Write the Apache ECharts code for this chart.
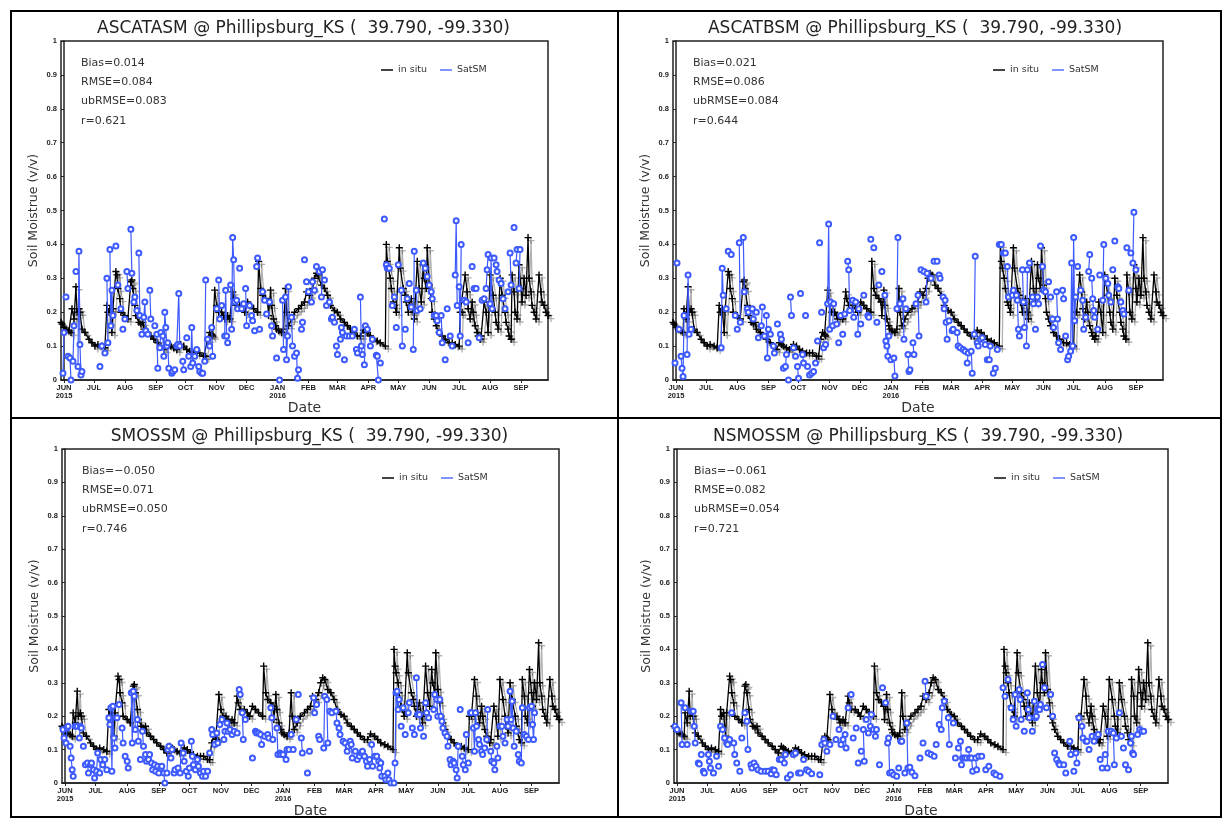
<!DOCTYPE html>
<html>
<head>
<meta charset="utf-8">
<title>Soil moisture at Phillipsburg_KS</title>
<script src="https://cdn.jsdelivr.net/npm/echarts@6/dist/echarts.min.js"></script>
<style>
  html, body { margin: 0; padding: 0; background: #fff; }
  #main { width: 1224px; height: 819px; }
</style>
</head>
<body>
<div id="main"></div>
<script>
// day numbers are counted from 2015-06-01 (day 0)
const dayZero = '2015-06-01';
const firstDay = -3;   // 2015-05-29
const lastDay = 485;   // 2016-09-28

// month ticks
const monthStarts = ['2015-06-01', '2015-07-01', '2015-08-01', '2015-09-01', '2015-10-01', '2015-11-01',
  '2015-12-01', '2016-01-01', '2016-02-01', '2016-03-01', '2016-04-01', '2016-05-01', '2016-06-01',
  '2016-07-01', '2016-08-01', '2016-09-01'];
const monthLabels = ['JUN\n2015', 'JUL', 'AUG', 'SEP', 'OCT', 'NOV', 'DEC', 'JAN\n2016', 'FEB', 'MAR',
  'APR', 'MAY', 'JUN', 'JUL', 'AUG', 'SEP'];

const productNames = ['ASCATASM', 'ASCATBSM', 'SMOSSM', 'NSMOSSM'];
const stationName = 'Phillipsburg_KS';
const stationCoords = '(  39.790, -99.330)';

const statsA = ['Bias=0.014', 'RMSE=0.084', 'ubRMSE=0.083', 'r=0.621'];
const statsB = ['Bias=0.021', 'RMSE=0.086', 'ubRMSE=0.084', 'r=0.644'];
const statsS = ['Bias=\u22120.050', 'RMSE=0.071', 'ubRMSE=0.050', 'r=0.746'];
const statsN = ['Bias=\u22120.061', 'RMSE=0.082', 'ubRMSE=0.054', 'r=0.721'];

// in situ soil moisture [day, v/v] (same station in every panel)
const inSitu = [[-3,0.17],[-2,0.165],[0,0.155],[2,0.15],[5,0.145],[7,0.14],[8,0.21],[10,0.18],[12,0.275],[13,0.2],
  [15,0.21],[16,0.2],[18,0.15],[21,0.14],[25,0.12],[28,0.11],[31,0.1],[34,0.105],[38,0.1],[41,0.095],[43,0.22],
  [44,0.2],[46,0.21],[48,0.14],[49,0.21],[52,0.32],[53,0.31],[54,0.27],[56,0.24],[57,0.2],[61,0.19],[64,0.18],
  [67,0.29],[68,0.295],[69,0.27],[71,0.22],[72,0.19],[75,0.17],[77,0.165],[79,0.17],[80,0.15],[84,0.14],[87,0.13],
  [90,0.12],[94,0.11],[97,0.1],[100,0.09],[103,0.11],[105,0.105],[107,0.1],[110,0.095],[113,0.09],[117,0.105],
  [120,0.1],[123,0.09],[126,0.085],[130,0.08],[133,0.08],[136,0.08],[140,0.07],[142,0.07],[144,0.12],[146,0.14],
  [148,0.135],[149,0.13],[151,0.265],[153,0.22],[155,0.2],[158,0.2],[160,0.19],[161,0.18],[164,0.19],[166,0.18],
  [169,0.26],[170,0.24],[172,0.22],[176,0.22],[179,0.21],[181,0.2],[184,0.23],[187,0.22],[190,0.21],[194,0.2],
  [195,0.35],[197,0.27],[199,0.25],[202,0.24],[204,0.23],[205,0.19],[207,0.265],[208,0.22],[210,0.18],[212,0.16],
  [213,0.15],[215,0.145],[218,0.14],[220,0.15],[222,0.27],[223,0.2],[225,0.16],[228,0.18],[231,0.2],[235,0.21],
  [238,0.22],[241,0.23],[243,0.26],[246,0.25],[249,0.27],[251,0.3],[253,0.315],[255,0.31],[258,0.28],[261,0.27],
  [264,0.25],[267,0.22],[271,0.205],[274,0.2],[277,0.18],[281,0.17],[284,0.16],[287,0.15],[290,0.14],[294,0.13],
  [297,0.13],[300,0.147],[304,0.14],[307,0.13],[310,0.12],[314,0.115],[317,0.11],[322,0.1],[323,0.4],[324,0.35],
  [325,0.33],[327,0.3],[328,0.27],[330,0.23],[331,0.22],[333,0.2],[336,0.39],[337,0.33],[340,0.27],[342,0.25],
  [343,0.23],[345,0.2],[346,0.22],[348,0.24],[350,0.2],[351,0.18],[354,0.35],[356,0.27],[358,0.23],[360,0.34],
  [361,0.3],[363,0.27],[364,0.39],[366,0.28],[368,0.24],[369,0.2],[371,0.18],[373,0.16],[376,0.14],[379,0.13],
  [382,0.12],[386,0.11],[389,0.11],[392,0.105],[396,0.1],[397,0.2],[399,0.2],[402,0.31],[404,0.26],[405,0.21],
  [407,0.18],[409,0.23],[410,0.2],[412,0.16],[414,0.14],[415,0.13],[417,0.12],[418,0.13],[421,0.23],[423,0.2],
  [425,0.14],[427,0.31],[430,0.25],[432,0.2],[433,0.17],[435,0.15],[437,0.3],[439,0.25],[442,0.2],[443,0.17],
  [445,0.15],[446,0.13],[448,0.12],[449,0.31],[451,0.26],[452,0.2],[454,0.18],[456,0.34],[458,0.27],[459,0.23],
  [461,0.3],[463,0.25],[465,0.42],[466,0.3],[468,0.26],[469,0.22],[471,0.2],[473,0.18],[476,0.31],[478,0.26],
  [479,0.23],[481,0.22],[483,0.2],[485,0.19]];

// satellite retrievals [day, v/v]; consecutive days are joined
const ascatA = [[-1,0.02],[0,0.14],[2,0.245],[4,0.07],[6,0.065],[7,0.0],[9,0.055],[10,0.16],[12,0.32],[14,0.04],
  [15,0.38],[16,0.105],[17,0.015],[18,0.025],[36,0.04],[38,0.1],[41,0.08],[43,0.3],[44,0.11],[46,0.385],[47,0.16],
  [48,0.265],[49,0.19],[52,0.395],[54,0.28],[57,0.21],[59,0.15],[61,0.18],[63,0.32],[64,0.27],[67,0.445],[68,0.315],
  [70,0.23],[71,0.245],[73,0.205],[75,0.375],[76,0.19],[78,0.135],[80,0.185],[81,0.23],[82,0.145],[84,0.135],
  [86,0.265],[87,0.18],[91,0.16],[93,0.135],[94,0.035],[96,0.095],[97,0.14],[99,0.13],[100,0.07],[101,0.2],
  [102,0.155],[103,0.1],[104,0.11],[105,0.035],[108,0.02],[109,0.025],[111,0.03],[113,0.1],[114,0.105],[115,0.255],
  [116,0.1],[119,0.055],[120,0.03],[123,0.125],[125,0.07],[127,0.04],[128,0.155],[129,0.05],[131,0.07],[133,0.09],
  [135,0.04],[136,0.025],[138,0.02],[139,0.02],[141,0.055],[142,0.295],[144,0.12],[146,0.1],[148,0.155],[149,0.07],
  [153,0.21],[155,0.295],[156,0.18],[158,0.22],[161,0.13],[162,0.265],[163,0.13],[164,0.11],[167,0.28],[168,0.15],
  [169,0.42],[170,0.355],[171,0.23],[173,0.235],[174,0.21],[176,0.33],[178,0.21],[180,0.225],[182,0.27],[183,0.16],
  [186,0.22],[188,0.19],[189,0.175],[191,0.145],[193,0.335],[194,0.36],[196,0.15],[199,0.26],[201,0.235],
  [203,0.195],[206,0.23],[208,0.16],[209,0.13],[213,0.065],[216,0.0],[219,0.235],[220,0.09],[222,0.245],[223,0.06],
  [224,0.13],[225,0.275],[228,0.185],[229,0.1],[231,0.07],[233,0.08],[234,0.005],[235,0.03],[238,0.15],[239,0.17],
  [241,0.355],[243,0.29],[245,0.26],[248,0.23],[249,0.29],[251,0.265],[253,0.335],[256,0.32],[258,0.245],
  [259,0.325],[261,0.295],[263,0.22],[266,0.23],[268,0.18],[269,0.185],[271,0.17],[273,0.1],[274,0.075],[277,0.12],
  [278,0.155],[279,0.14],[281,0.06],[283,0.13],[286,0.13],[289,0.13],[291,0.15],[293,0.09],[294,0.08],[297,0.245],
  [298,0.1],[299,0.075],[301,0.045],[302,0.16],[304,0.15],[307,0.1],[309,0.12],[313,0.073],[314,0.07],[315,0.0],
  [317,0.05],[321,0.475],[323,0.34],[324,0.33],[326,0.33],[329,0.22],[331,0.245],[333,0.155],[335,0.34],[338,0.265],
  [339,0.1],[342,0.15],[344,0.24],[346,0.285],[348,0.215],[350,0.09],[351,0.38],[353,0.265],[354,0.205],[357,0.21],
  [360,0.345],[362,0.33],[364,0.305],[366,0.28],[368,0.26],[369,0.24],[371,0.19],[373,0.19],[374,0.175],[376,0.14],
  [378,0.19],[379,0.11],[382,0.06],[384,0.21],[387,0.13],[389,0.1],[392,0.31],[393,0.47],[394,0.22],[396,0.275],
  [397,0.13],[398,0.4],[401,0.235],[403,0.23],[405,0.11],[409,0.335],[411,0.27],[413,0.27],[416,0.125],[419,0.235],
  [421,0.24],[423,0.27],[424,0.325],[425,0.37],[427,0.225],[428,0.36],[429,0.21],[431,0.36],[433,0.34],[434,0.32],
  [436,0.295],[438,0.285],[440,0.24],[442,0.21],[445,0.26],[447,0.375],[448,0.28],[451,0.45],[453,0.345],
  [454,0.385],[456,0.27],[457,0.385]];

const ascatB = [[-1,0.05],[1,0.345],[3,0.15],[5,0.07],[6,0.035],[7,0.01],[8,0.19],[11,0.075],[12,0.31],[13,0.135],
  [15,0.15],[45,0.095],[46,0.33],[47,0.25],[50,0.21],[52,0.38],[55,0.37],[59,0.19],[61,0.15],[63,0.405],[64,0.17],
  [67,0.42],[68,0.26],[71,0.21],[72,0.2],[76,0.21],[77,0.18],[80,0.2],[82,0.125],[85,0.16],[86,0.215],[88,0.13],
  [90,0.19],[91,0.065],[92,0.15],[94,0.135],[97,0.1],[98,0.08],[101,0.165],[104,0.135],[105,0.12],[107,0.035],
  [109,0.04],[110,0.075],[112,0.0],[114,0.245],[115,0.19],[117,0.095],[119,0.07],[121,0.04],[122,0.005],[124,0.255],
  [126,0.075],[127,0.05],[129,0.19],[131,0.04],[133,0.015],[135,0.02],[137,0.025],[139,0.05],[141,0.115],[143,0.405],
  [145,0.2],[147,0.095],[149,0.105],[151,0.225],[152,0.46],[153,0.15],[154,0.23],[156,0.16],[157,0.225],[160,0.165],
  [162,0.11],[164,0.19],[166,0.135],[168,0.195],[171,0.35],[172,0.325],[173,0.205],[176,0.235],[177,0.185],[179,0.23],
  [181,0.135],[182,0.21],[184,0.165],[187,0.25],[191,0.19],[192,0.185],[194,0.415],[197,0.39],[200,0.17],[202,0.28],
  [205,0.32],[208,0.25],[209,0.115],[210,0.1],[211,0.07],[212,0.13],[214,0.06],[217,0.065],[218,0.012],[220,0.21],
  [221,0.42],[223,0.225],[226,0.24],[227,0.12],[229,0.21],[231,0.075],[232,0.025],[233,0.03],[236,0.11],[237,0.075],
  [239,0.225],[241,0.25],[242,0.13],[244,0.325],[247,0.32],[249,0.23],[250,0.315],[254,0.3],[257,0.35],[260,0.35],
  [262,0.31],[263,0.3],[266,0.245],[267,0.21],[268,0.235],[269,0.17],[270,0.12],[272,0.175],[275,0.145],[276,0.15],
  [280,0.14],[281,0.1],[283,0.095],[286,0.09],[288,0.085],[290,0.05],[291,0.08],[294,0.085],[295,0.02],[297,0.135],
  [298,0.365],[300,0.11],[301,0.1],[303,0.12],[305,0.125],[308,0.105],[310,0.06],[312,0.06],[313,0.1],[316,0.02],
  [318,0.035],[320,0.09],[322,0.4],[324,0.4],[326,0.375],[328,0.375],[330,0.335],[331,0.245],[335,0.25],[336,0.265],
  [339,0.25],[340,0.235],[341,0.15],[342,0.13],[345,0.325],[346,0.23],[347,0.155],[349,0.1],[350,0.325],[352,0.345],
  [355,0.245],[356,0.225],[358,0.15],[360,0.245],[361,0.225],[363,0.395],[365,0.335],[366,0.265],[368,0.26],
  [371,0.29],[373,0.245],[375,0.18],[376,0.155],[379,0.26],[380,0.18],[381,0.11],[383,0.09],[385,0.265],[386,0.24],
  [388,0.13],[390,0.06],[391,0.07],[393,0.085],[394,0.345],[395,0.1],[396,0.42],[397,0.175],[398,0.245],[400,0.335],
  [403,0.265],[405,0.235],[406,0.15],[408,0.185],[411,0.32],[412,0.37],[414,0.3],[415,0.24],[416,0.205],[417,0.185],
  [420,0.15],[422,0.31],[425,0.235],[426,0.4],[428,0.3],[430,0.285],[431,0.25],[433,0.23],[435,0.325],[437,0.41],
  [440,0.275],[441,0.27],[443,0.23],[445,0.205],[446,0.195],[449,0.39],[451,0.265],[453,0.375],[455,0.345],
  [456,0.495],[458,0.325]];

const smos = [[-2,0.16],[-1,0.135],[1,0.12],[2,0.165],[3,0.17],[5,0.11],[6,0.075],[7,0.04],[8,0.02],[10,0.17],
  [12,0.17],[14,0.135],[15,0.17],[16,0.165],[18,0.11],[20,0.055],[22,0.06],[23,0.03],[25,0.055],[26,0.06],[28,0.04],
  [29,0.015],[31,0.035],[32,0.09],[34,0.03],[35,0.07],[37,0.055],[39,0.07],[41,0.04],[43,0.195],[44,0.175],
  [45,0.225],[46,0.035],[47,0.23],[48,0.135],[49,0.105],[51,0.195],[53,0.235],[56,0.165],[57,0.12],[59,0.08],
  [61,0.065],[62,0.045],[65,0.27],[66,0.12],[67,0.275],[68,0.26],[69,0.16],[71,0.19],[72,0.125],[74,0.07],[76,0.155],
  [77,0.11],[79,0.085],[80,0.065],[82,0.07],[83,0.085],[85,0.06],[86,0.04],[88,0.055],[89,0.035],[91,0.05],[92,0.03],
  [94,0.045],[95,0.05],[97,0.03],[98,0.0],[100,0.03],[101,0.1],[102,0.11],[104,0.075],[105,0.1],[107,0.03],[108,0.04],
  [111,0.045],[113,0.03],[114,0.12],[116,0.09],[117,0.065],[119,0.035],[121,0.02],[122,0.045],[124,0.125],[125,0.08],
  [126,0.055],[128,0.04],[130,0.07],[131,0.05],[133,0.03],[135,0.02],[136,0.035],[138,0.02],[140,0.035],[142,0.09],
  [144,0.16],[145,0.145],[147,0.115],[149,0.15],[150,0.12],[152,0.175],[154,0.19],[156,0.13],[157,0.155],[159,0.18],
  [160,0.155],[162,0.16],[164,0.145],[166,0.155],[169,0.15],[171,0.28],[172,0.265],[174,0.21],[175,0.13],[177,0.19],
  [184,0.075],[187,0.155],[188,0.15],[190,0.15],[192,0.145],[193,0.115],[196,0.14],[199,0.145],[200,0.135],
  [202,0.225],[203,0.195],[204,0.13],[208,0.165],[209,0.085],[211,0.09],[212,0.085],[214,0.085],[217,0.07],[218,0.1],
  [220,0.1],[222,0.145],[224,0.1],[227,0.19],[229,0.265],[232,0.135],[233,0.09],[238,0.03],[240,0.095],[244,0.255],
  [245,0.21],[247,0.235],[249,0.14],[250,0.13],[254,0.105],[255,0.26],[257,0.25],[258,0.12],[260,0.215],[262,0.21],
  [266,0.215],[267,0.18],[269,0.165],[270,0.145],[273,0.125],[275,0.12],[277,0.095],[278,0.11],[280,0.125],
  [281,0.115],[282,0.075],[285,0.095],[287,0.07],[289,0.08],[291,0.09],[292,0.095],[294,0.08],[296,0.065],[297,0.05],
  [299,0.07],[301,0.115],[302,0.05],[304,0.08],[306,0.08],[308,0.065],[309,0.045],[310,0.06],[311,0.02],[314,0.02],
  [315,0.01],[317,0.03],[318,0.01],[320,0.0],[323,0.0],[324,0.06],[325,0.27],[326,0.275],[327,0.22],[328,0.25],
  [330,0.17],[332,0.225],[334,0.145],[337,0.21],[338,0.24],[341,0.165],[343,0.145],[345,0.315],[346,0.205],
  [348,0.205],[349,0.165],[352,0.14],[354,0.24],[355,0.21],[357,0.195],[362,0.22],[363,0.265],[365,0.25],[366,0.2],
  [368,0.25],[369,0.2],[370,0.185],[371,0.165],[373,0.15],[375,0.14],[376,0.11],[378,0.07],[379,0.055],[381,0.065],
  [382,0.06],[384,0.04],[385,0.015],[386,0.11],[388,0.22],[390,0.08],[391,0.055],[393,0.04],[394,0.145],[396,0.06],
  [398,0.21],[399,0.21],[401,0.165],[402,0.095],[403,0.21],[404,0.17],[406,0.13],[407,0.115],[409,0.095],[410,0.085],
  [412,0.105],[414,0.13],[415,0.22],[418,0.095],[419,0.065],[421,0.06],[422,0.04],[424,0.11],[425,0.075],[427,0.17],
  [429,0.17],[430,0.14],[432,0.12],[434,0.19],[435,0.17],[437,0.275],[438,0.19],[439,0.245],[440,0.165],[441,0.11],
  [443,0.155],[445,0.085],[446,0.065],[448,0.06],[449,0.225],[451,0.145],[453,0.14],[455,0.13],[456,0.225],
  [458,0.23],[459,0.175],[460,0.13],[461,0.21]];

const nsmos = [[-2,0.17],[0,0.16],[4,0.24],[5,0.115],[8,0.225],[10,0.115],[14,0.215],[16,0.215],[17,0.17],[18,0.12],
  [21,0.06],[22,0.057],[24,0.085],[26,0.035],[27,0.03],[31,0.085],[32,0.065],[33,0.045],[36,0.03],[39,0.08],[41,0.05],
  [43,0.17],[45,0.16],[47,0.135],[49,0.12],[50,0.115],[52,0.13],[54,0.21],[56,0.12],[57,0.085],[59,0.06],[62,0.035],
  [64,0.135],[67,0.21],[69,0.185],[70,0.1],[73,0.055],[74,0.045],[76,0.06],[78,0.05],[80,0.04],[83,0.035],[87,0.035],
  [90,0.035],[93,0.028],[94,0.04],[96,0.038],[98,0.025],[101,0.07],[103,0.07],[106,0.06],[107,0.085],[109,0.015],
  [112,0.025],[115,0.085],[117,0.09],[120,0.03],[122,0.03],[125,0.07],[128,0.04],[130,0.035],[133,0.028],[141,0.025],
  [143,0.115],[145,0.13],[146,0.12],[148,0.095],[151,0.115],[154,0.2],[157,0.13],[160,0.16],[162,0.115],[164,0.13],
  [166,0.145],[167,0.105],[169,0.225],[172,0.265],[174,0.135],[177,0.165],[179,0.06],[182,0.095],[184,0.16],
  [185,0.065],[187,0.19],[189,0.15],[191,0.17],[192,0.205],[194,0.16],[196,0.14],[197,0.16],[200,0.055],[203,0.285],
  [206,0.24],[208,0.12],[209,0.135],[210,0.03],[212,0.032],[214,0.025],[217,0.02],[219,0.045],[221,0.125],
  [222,0.125],[225,0.03],[227,0.18],[228,0.045],[230,0.047],[232,0.032],[235,0.022],[240,0.075],[243,0.12],
  [245,0.305],[246,0.26],[248,0.09],[251,0.085],[254,0.08],[256,0.115],[259,0.175],[261,0.16],[262,0.225],
  [264,0.245],[268,0.195],[269,0.115],[273,0.18],[275,0.075],[278,0.105],[280,0.125],[281,0.055],[282,0.075],
  [284,0.075],[286,0.075],[288,0.1],[289,0.075],[291,0.075],[292,0.035],[295,0.075],[296,0.04],[298,0.08],[301,0.08],
  [305,0.04],[308,0.05],[313,0.03],[315,0.025],[319,0.02],[322,0.285],[324,0.26],[327,0.31],[330,0.225],[332,0.19],
  [334,0.265],[335,0.17],[338,0.28],[339,0.25],[340,0.19],[343,0.155],[346,0.27],[347,0.22],[348,0.195],[351,0.155],
  [353,0.245],[354,0.195],[355,0.2],[356,0.22],[358,0.22],[359,0.235],[361,0.355],[363,0.285],[365,0.225],
  [369,0.265],[371,0.2],[373,0.09],[375,0.07],[377,0.06],[378,0.055],[382,0.055],[384,0.03],[388,0.125],[389,0.085],
  [392,0.035],[394,0.09],[395,0.06],[397,0.195],[400,0.17],[401,0.135],[404,0.125],[405,0.125],[407,0.1],[410,0.14],
  [412,0.125],[414,0.14],[416,0.145],[418,0.07],[420,0.045],[423,0.085],[425,0.045],[426,0.155],[429,0.155],
  [431,0.15],[432,0.055],[434,0.135],[437,0.21],[439,0.14],[441,0.105],[443,0.055],[446,0.04],[448,0.12],[449,0.14],
  [450,0.09],[451,0.085],[455,0.145],[457,0.16],[459,0.155],[461,0.155]];

const yTicks = [0, 0.1, 0.2, 0.3, 0.4, 0.5, 0.6, 0.7, 0.8, 0.9, 1];

// ---- layout ----
const grids = [
  { left: 61, top: 41, width: 487, height: 339 },
  { left: 673, top: 41, width: 490, height: 339 },
  { left: 62, top: 449, width: 497, height: 338 },
  { left: 674, top: 449, width: 494, height: 338 }
];
const satData = [ascatA, ascatB, smos, nsmos];
const statsList = [statsA, statsB, statsS, statsN];

const BLUE = '#3d5afe';
const FONT = '"DejaVu Sans", "Liberation Sans", sans-serif';
const TICKFONT = '"Liberation Sans", Arial, sans-serif';
const plusSymbol = 'path://M4,0H6V4H10V6H6V10H4V6H0V4H4Z';

function dayOf(dateStr) {
  const p = dateStr.split('-').map(Number);
  const z = dayZero.split('-').map(Number);
  return Math.round((Date.UTC(p[0], p[1] - 1, p[2]) - Date.UTC(z[0], z[1] - 1, z[2])) / 86400000);
}
const tickDays = monthStarts.map(dayOf);

// break the line where days are not consecutive
function withGaps(points) {
  const out = [];
  points.forEach((p, i) => {
    if (i > 0 && p[0] - points[i - 1][0] > 1) out.push([p[0] - 0.5, '-']);
    out.push(p);
  });
  return out;
}

const title = [], legend = [], xAxis = [], yAxis = [], series = [];
grids.forEach((g, i) => {
  title.push({
    text: productNames[i] + ' @ ' + stationName + ' ' + stationCoords,
    left: g.left + g.width / 2 - (i % 2 ? 3 : 1), top: g.top - 21, textAlign: 'center', padding: 0,
    textStyle: { fontFamily: FONT, fontSize: 17, fontWeight: 'normal', color: '#222' }
  });
  title.push({
    text: statsList[i].join('\n'),
    left: g.left + 20, top: g.top + 12, padding: 0,
    textStyle: { fontFamily: FONT, fontSize: 11, fontWeight: 'normal', color: '#333', lineHeight: 19.4 }
  });
  legend.push({
    left: g.left + 320, top: g.top + 24, padding: 0,
    itemWidth: 12, itemHeight: 2, itemGap: 13,
    textStyle: { fontFamily: FONT, fontSize: 9.5, color: '#333' },
    data: [
      { name: 'in situ', icon: 'rect', itemStyle: { color: '#444', borderWidth: 0, shadowColor: 'transparent' } },
      { name: 'SatSM', icon: 'rect', itemStyle: { color: '#7f94ff', borderWidth: 0 } }
    ]
  });
  xAxis.push({
    gridIndex: i, type: 'value', min: firstDay, max: lastDay,
    name: 'Date', nameLocation: 'middle', nameGap: i < 2 ? 19 : 21,
    nameTextStyle: { fontFamily: FONT, fontSize: 14, color: '#333' },
    axisLine: { lineStyle: { color: '#222', width: 1.5 } },
    axisTick: { customValues: tickDays, length: 3, lineStyle: { color: '#222' } },
    axisLabel: {
      customValues: tickDays, margin: 4, fontFamily: TICKFONT, fontSize: 7.5, fontWeight: 'bold',
      color: '#222', lineHeight: 8,
      formatter: v => monthLabels[tickDays.indexOf(v)]
    },
    splitLine: { show: false }
  });
  yAxis.push({
    gridIndex: i, type: 'value', min: 0, max: 1,
    name: 'Soil Moistrue (v/v)', nameLocation: 'middle', nameGap: 21, nameRotate: 90,
    nameTextStyle: { fontFamily: FONT, fontSize: 12.5, color: '#333' },
    axisLine: { show: true, lineStyle: { color: '#222', width: 1.5 } },
    axisTick: { customValues: yTicks, length: 3, lineStyle: { color: '#222' } },
    axisLabel: {
      customValues: yTicks, margin: 4, fontFamily: TICKFONT, fontSize: 7.5, fontWeight: 'bold', color: '#222',
      formatter: v => String(Math.round(v * 10) / 10)
    },
    splitLine: { show: false }
  });
  series.push({
    name: 'in situ', type: 'line', xAxisIndex: i, yAxisIndex: i,
    data: inSitu, symbol: plusSymbol, symbolSize: 7,
    lineStyle: { color: '#000', width: 1.3, shadowColor: 'rgba(0,0,0,0.3)', shadowOffsetX: 3, shadowOffsetY: 3 },
    itemStyle: { color: '#000', shadowColor: 'rgba(0,0,0,0.3)', shadowOffsetX: 3, shadowOffsetY: 3 },
    z: 2
  });
  series.push({
    name: 'SatSM', type: 'line', xAxisIndex: i, yAxisIndex: i,
    data: withGaps(satData[i]), connectNulls: false,
    symbol: 'emptyCircle', symbolSize: 5,
    lineStyle: { color: BLUE, width: 1.2 },
    itemStyle: { color: BLUE, borderColor: BLUE, borderWidth: 1.2 },
    z: 3
  });
});

const chart = echarts.init(document.getElementById('main'), null, { renderer: 'canvas' });
chart.setOption({
  backgroundColor: '#fff',
  animation: false,
  title: title,
  legend: legend,
  grid: grids.map(g => Object.assign({ show: true, borderColor: '#222', borderWidth: 1.5, containLabel: false }, g)),
  xAxis: xAxis,
  yAxis: yAxis,
  series: series,
  graphic: [
    { type: 'rect', shape: { x: 11, y: 11, width: 1210, height: 806 }, style: { fill: 'none', stroke: '#000', lineWidth: 2 } },
    { type: 'line', shape: { x1: 618, y1: 11, x2: 618, y2: 817 }, style: { stroke: '#000', lineWidth: 2 } },
    { type: 'line', shape: { x1: 11, y1: 418, x2: 1221, y2: 418 }, style: { stroke: '#000', lineWidth: 2 } }
  ]
});
</script>
</body>
</html>
